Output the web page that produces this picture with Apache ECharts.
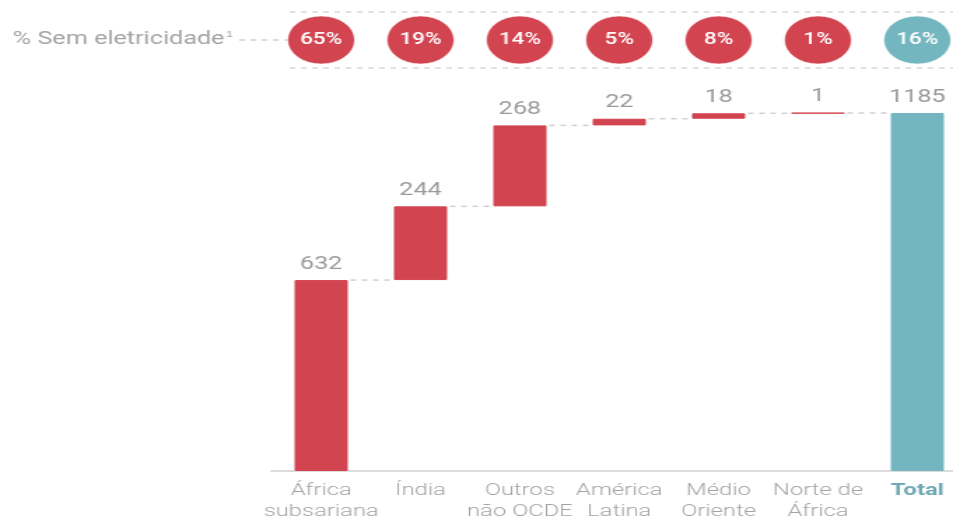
<!DOCTYPE html>
<html>
<head>
<meta charset="utf-8">
<script src="https://cdn.jsdelivr.net/npm/echarts@6/dist/echarts.min.js"></script>
<style>
  html, body { margin: 0; padding: 0; background: #fff; overflow: hidden; }
  /* The chart is laid out narrow and widened horizontally */
  #chart { width: 681px; height: 517px; transform: scaleX(1.3994); transform-origin: 0 0; }
</style>
</head>
<body>
<div id="chart"></div>
<script>
// Population without electricity (millions) by region, plus the total
const categories = ['África\nsubsariana', 'Índia', 'Outros\nnão OCDE', 'América\nLatina', 'Médio\nOriente', 'Norte de\nÁfrica', 'Total'];
const regionValues = [632, 244, 268, 22, 18, 1];
const totalValue = 1185;
// Share of each region's population without electricity
const shareLabels = ['65%', '19%', '14%', '5%', '8%', '1%', '16%'];

const RED = '#d24550';
const TEAL = '#74b6bf';
const GREY_TEXT = '#a3a3a3';
const BAR_W = 38;

// Waterfall pieces: invisible base + visible step, total starts at zero
const bases = [];
const steps = [];
const levels = [];
let running = 0;
regionValues.forEach(v => {
  bases.push(running);
  steps.push(v);
  running += v;
  levels.push(running);
});
bases.push(0);
steps.push(totalValue);
levels.push(totalValue);

const barColors = categories.map((c, i) => i === categories.length - 1 ? TEAL : RED);

const xAxisBase = {
  type: 'category',
  data: categories,
  boundaryGap: true,
  axisTick: { show: false }
};

const chart = echarts.init(document.getElementById('chart'), null, { width: 681, height: 517 });
chart.setOption({
  animation: false,
  grid: [
    { left: 194, width: 497, top: 113, bottom: 46, outerBoundsMode: 'none', containLabel: false },
    { left: 194, width: 497, top: 16, height: 48, outerBoundsMode: 'none', containLabel: false }
  ],
  xAxis: [
    Object.assign({}, xAxisBase, {
      gridIndex: 0,
      axisLine: { show: true, lineStyle: { color: '#dcdcdc', width: 2 } },
      axisLabel: {
        interval: 0,
        margin: 9,
        fontFamily: 'Roboto',
        fontWeight: 300,
        fontSize: 17,
        lineHeight: 21,
        color: GREY_TEXT,
        hideOverlap: false,
        formatter: (val, idx) => idx === categories.length - 1 ? '{t|' + val + '}' : val,
        rich: {
          t: { fontFamily: 'Roboto', fontWeight: 'bold', fontSize: 17, color: '#6fa9b1' }
        }
      }
    }),
    Object.assign({}, xAxisBase, {
      gridIndex: 1,
      axisLine: { show: false },
      axisLabel: { show: false }
    })
  ],
  yAxis: [
    { type: 'value', gridIndex: 0, min: 0, max: totalValue, show: false, splitLine: { show: false } },
    { type: 'value', gridIndex: 1, min: -1, max: 1, show: false, splitLine: { show: false } }
  ],
  series: [
    {
      type: 'bar',
      stack: 'w',
      barWidth: BAR_W,
      silent: true,
      itemStyle: { color: 'transparent' },
      data: bases
    },
    {
      type: 'bar',
      stack: 'w',
      barWidth: BAR_W,
      data: steps.map((v, i) => ({
        value: v,
        itemStyle: { color: barColors[i], borderColor: barColors[i], borderWidth: 1 }
      })),
      label: {
        show: true,
        position: 'top',
        distance: 7,
        fontFamily: 'Roboto',
        fontSize: 18,
        color: '#9a9a9a',
        formatter: p => String(p.value)
      }
    },
    {
      // Dashed connectors between consecutive bar tops
      type: 'custom',
      xAxisIndex: 0,
      yAxisIndex: 0,
      silent: true,
      data: levels.slice(0, levels.length - 1).map((lv, i) => [i, lv]),
      renderItem: (params, api) => {
        const i = api.value(0);
        const lv = api.value(1);
        const a = api.coord([i, lv]);
        const b = api.coord([i + 1, lv]);
        const half = BAR_W / 2;
        return {
          type: 'line',
          shape: { x1: a[0] + half + 2, y1: a[1], x2: b[0] - half - 2, y2: a[1] },
          style: { stroke: '#d0d0d0', lineWidth: 1.5, lineDash: [4, 4] }
        };
      }
    },
    {
      // Share bubbles along the top row
      type: 'scatter',
      xAxisIndex: 1,
      yAxisIndex: 1,
      symbol: 'circle',
      symbolSize: 48,
      data: shareLabels.map((s, i) => ({
        value: [i, 0],
        name: s,
        itemStyle: {
          color: i === shareLabels.length - 1 ? TEAL : RED,
          opacity: 1,
          borderColor: 'rgba(255,255,255,0.6)',
          borderWidth: 1
        }
      })),
      label: {
        show: true,
        position: 'inside',
        fontFamily: 'Roboto',
        fontWeight: 500,
        fontSize: 16,
        color: '#ffffff',
        formatter: p => p.name
      }
    }
  ],
  graphic: [
    {
      type: 'text',
      left: 9,
      top: 30,
      style: {
        text: '% Sem eletricidade{s|1}',
        fontFamily: 'Roboto',
        fontSize: 18,
        fill: GREY_TEXT,
        rich: { s: { fontSize: 9, verticalAlign: 'top', fill: GREY_TEXT, padding: [0, 0, 8, 1] } }
      }
    },
    {
      type: 'line',
      shape: { x1: 171, y1: 40, x2: 206, y2: 40 },
      style: { stroke: '#d0d0d0', lineWidth: 1.5, lineDash: [4, 4] },
      z: -1
    },
    {
      type: 'line',
      shape: { x1: 207, y1: 12, x2: 681, y2: 12 },
      style: { stroke: '#d8d8d8', lineWidth: 1.5, lineDash: [4, 4] },
      z: -1
    },
    {
      type: 'line',
      shape: { x1: 207, y1: 68, x2: 681, y2: 68 },
      style: { stroke: '#d8d8d8', lineWidth: 1.5, lineDash: [4, 4] },
      z: -1
    }
  ]
});
</script>
</body>
</html>
